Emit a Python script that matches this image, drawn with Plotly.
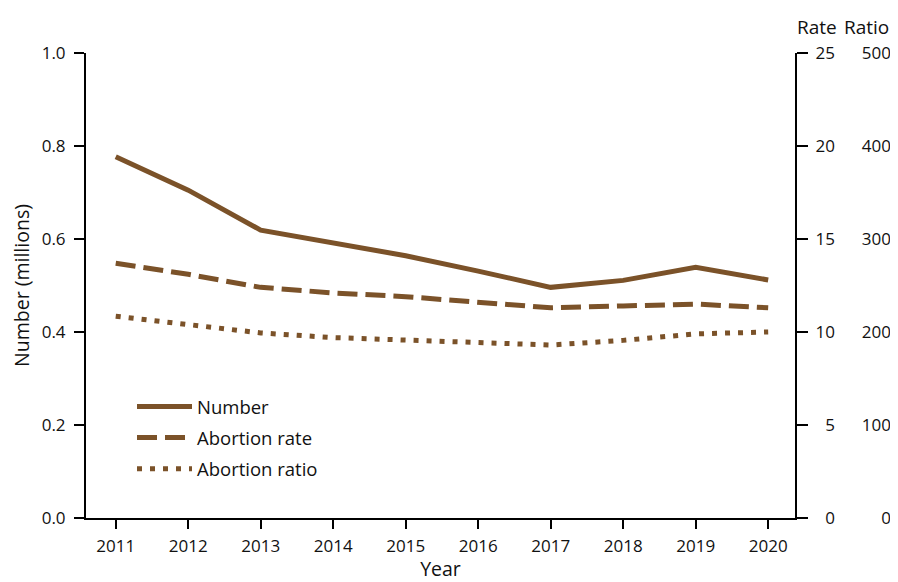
import plotly.graph_objects as go

years = [2011, 2012, 2013, 2014, 2015, 2016, 2017, 2018, 2019, 2020]
number_millions = [0.777, 0.705, 0.619, 0.592, 0.564, 0.531, 0.496, 0.511, 0.539, 0.512]
abortion_rate = [13.7, 13.1, 12.4, 12.1, 11.9, 11.6, 11.3, 11.4, 11.5, 11.3]
abortion_ratio = [217, 208, 199, 194, 191, 188, 186, 191, 198, 200]

left_ticks = [0.0, 0.2, 0.4, 0.6, 0.8, 1.0]
rate_ticks = [0, 5, 10, 15, 20, 25]
ratio_ticks = [0, 100, 200, 300, 400, 500]

BROWN = "#7b5229"
FONT = "Open Sans, Noto Sans, sans-serif"
TICK_FS = 17
TEXT_FS = 19.5

fig = go.Figure()
fig.add_trace(go.Scatter(x=years, y=number_millions, mode="lines", name="Number",
                         line=dict(color=BROWN, width=5), yaxis="y", legendgroup="a"))
fig.add_trace(go.Scatter(x=years, y=abortion_rate, mode="lines", name="Abortion rate",
                         line=dict(color=BROWN, width=5, dash="20px,8px"), yaxis="y2", legendgroup="b"))
fig.add_trace(go.Scatter(x=years, y=abortion_ratio, mode="lines", name="Abortion ratio",
                         line=dict(color=BROWN, width=5, dash="5px,8px"), yaxis="y3", legendgroup="c"))
# empty trace so the right-hand axis line with rate ticks is drawn
fig.add_trace(go.Scatter(x=[], y=[], mode="lines", yaxis="y4", showlegend=False, hoverinfo="skip"))

# page body has an 8px margin; the figure is sized to fit the window
OFF = 8
W, H = 898 - OFF, 582 - OFF
L, R, T, B = 86 - OFF, 4, 53 - OFF, 64
plot_w = W - L - R
xdom_end = (795 - OFF - L) / plot_w


def px(x):
    return (x - OFF - L) / plot_w


fig.update_layout(
    width=W, height=H,
    margin=dict(l=L, r=R, t=T, b=B, autoexpand=False),
    paper_bgcolor="white", plot_bgcolor="white",
    font=dict(family=FONT, size=TICK_FS, color="#111"),
    xaxis=dict(domain=[0, xdom_end], range=[2010.59, 2020.37], automargin=False,
               tickmode="array", tickvals=years, ticktext=[str(y) for y in years],
               showline=True, linecolor="black", linewidth=2,
               ticks="outside", ticklen=9, tickwidth=2, tickcolor="black",
               ticklabelstandoff=3,
               showgrid=False, zeroline=False,
               title=dict(text="Year", standoff=4, font=dict(size=TEXT_FS))),
    yaxis=dict(range=[0, 1.0], tickmode="array", tickvals=left_ticks, automargin=False,
               ticktext=[f"{v:.1f}" for v in left_ticks],
               showline=True, linecolor="black", linewidth=2,
               ticks="outside", ticklen=10, tickwidth=2, tickcolor="black",
               ticklabelstandoff=5,
               showgrid=False, zeroline=False,
               title=dict(text="Number (millions)", standoff=8, font=dict(size=TEXT_FS))),
    # rate labels (right-aligned), no line
    yaxis2=dict(range=[0, 25], overlaying="y", side="left", anchor="free", automargin=False,
                position=px(835),
                tickmode="array", tickvals=rate_ticks,
                showline=False, ticks="", showgrid=False, zeroline=False),
    # ratio labels (right-aligned), no line
    yaxis3=dict(range=[0, 500], overlaying="y", side="left", anchor="free", automargin=False,
                position=px(891),
                tickmode="array", tickvals=ratio_ticks,
                showline=False, ticks="", showgrid=False, zeroline=False),
    # right frame line with rate ticks
    yaxis4=dict(range=[0, 25], overlaying="y", side="right", anchor="x", automargin=False,
                tickmode="array", tickvals=rate_ticks, showticklabels=False,
                showline=True, linecolor="black", linewidth=2,
                ticks="outside", ticklen=11, tickwidth=2, tickcolor="black",
                showgrid=False, zeroline=False),
    legend=dict(x=px(132), y=(518 - 388) / 465, xanchor="left", yanchor="top",
                bgcolor="rgba(0,0,0,0)", tracegroupgap=4,
                font=dict(size=TEXT_FS - 1), itemwidth=55),
    annotations=[
        dict(text="Rate", xref="paper", yref="paper", x=px(817), y=1.0,
             yshift=26, showarrow=False, xanchor="center", yanchor="middle", font=dict(size=19)),
        dict(text="Ratio", xref="paper", yref="paper", x=px(866), y=1.0,
             yshift=26, showarrow=False, xanchor="center", yanchor="middle", font=dict(size=19)),
    ],
)

fig.write_html("out.html")
